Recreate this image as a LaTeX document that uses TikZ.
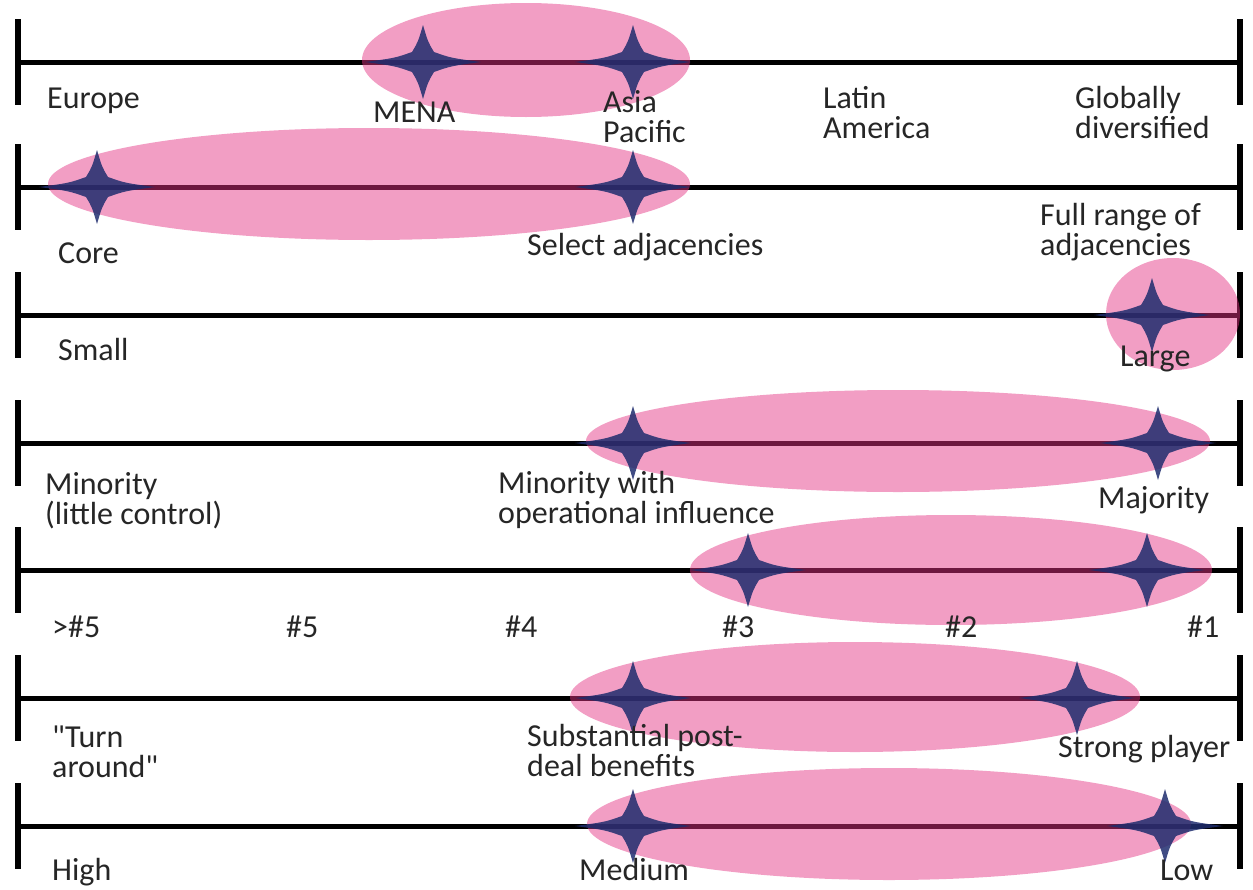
\documentclass[tikz,border=0pt]{standalone}
\usepackage{fontspec}
\setmainfont{Carlito}[Ligatures=TeXOff]
\definecolor{txt}{RGB}{38,38,38}
\definecolor{hl}{RGB}{228,52,132}
\definecolor{navy}{RGB}{31,45,110}
\tikzset{
  axisline/.style={line width=5pt},
  endtick/.style={line width=6pt},
  band/.style={fill=hl,fill opacity=0.48,draw=none},
  starshape/.style={fill=navy,fill opacity=0.85,draw=none},
  lbl/.style={anchor=base west,inner sep=0pt,text=txt,font=\fontsize{32}{30}\selectfont,align=left}
}
\newcommand\drawstar[2]{%
  \fill[starshape] (#1+58,#2) .. controls (#1+28,#2-4) .. (#1+11,#2-10)
    .. controls (#1+5,#2-20) .. (#1,#2-37)
    .. controls (#1-5,#2-20) .. (#1-11,#2-10)
    .. controls (#1-28,#2-4) .. (#1-58,#2)
    .. controls (#1-28,#2+4) .. (#1-11,#2+10)
    .. controls (#1-5,#2+20) .. (#1,#2+37)
    .. controls (#1+5,#2+20) .. (#1+11,#2+10)
    .. controls (#1+28,#2+4) .. (#1+58,#2) -- cycle;}
\begin{document}
\begin{tikzpicture}[x=1pt,y=-1pt]
\useasboundingbox (0,0) rectangle (1253,889);
% axes
\foreach \r/\yy in {1/62,2/187,3/315,4/443,5/570,6/698,7/826}{
  \coordinate (l\r) at (18,\yy);
  \coordinate (r\r) at (1240,\yy);
  \draw[axisline] (l\r) -- (r\r);
  \draw[endtick] ([yshift=43pt]l\r) -- ([yshift=-43pt]l\r);
  \draw[endtick] ([yshift=43pt]r\r) -- ([yshift=-43pt]r\r);
}
% highlight bands
\fill[band] (526,60) ellipse [x radius=164, y radius=57];
\fill[band] (369,184) ellipse [x radius=321, y radius=56];
\fill[band] (1173,314) ellipse [x radius=67, y radius=56];
\fill[band] (898,441) ellipse [x radius=312, y radius=51];
\fill[band] (951,570) ellipse [x radius=261, y radius=55];
\fill[band] (855,697) ellipse [x radius=285, y radius=55];
\fill[band] (889,824) ellipse [x radius=302, y radius=56];
% stars
\drawstar{423}{62}\drawstar{633}{62}
\drawstar{97}{187}\drawstar{633}{187}
\drawstar{1152}{315}
\drawstar{633}{443}\drawstar{1158}{443}
\drawstar{748}{570}\drawstar{1147}{570}
\drawstar{633}{698}\drawstar{1077}{698}
\drawstar{633}{826}\drawstar{1165}{826}
% labels row 1
\node[lbl] (t11) at (47,108) {Europe};
\node[lbl] (t12) at (373,122) {MENA};
\node[lbl] (t13) at (603,142) {Asia\\Pacific};
\node[lbl] (t14) at (823,138) {Latin\\America};
\node[lbl] (t15) at (1075,138) {Globally\\diversified};
% row 2
\node[lbl] (t21) at (58,263) {Core};
\node[lbl] (t22) at (527,255) {Select adjacencies};
\node[lbl] (t23) at (1040,255) {Full range of\\adjacencies};
% row 3
\node[lbl] (t31) at (58,360) {Small};
\node[lbl] (t32) at (1120,366) {Large};
% row 4
\node[lbl] (t41) at (45,524) {Minority\\(little control)};
\node[lbl] (t42) at (498,523) {Minority with\\operational influence};
\node[lbl] (t43) at (1098,508) {Majority};
% row 5
\node[lbl] (t51) at (52,637) {>\#5};
\node[lbl] (t52) at (286,637) {\#5};
\node[lbl] (t53) at (505,637) {\#4};
\node[lbl] (t54) at (722,637) {\#3};
\node[lbl] (t55) at (945,637) {\#2};
\node[lbl] (t56) at (1187,637) {\#1};
% row 6
\node[lbl] (t61) at (52,777) {"Turn\\around"};
\node[lbl] (t62) at (527,776) {Substantial post-\\deal benefits};
\node[lbl] (t63) at (1058,757) {Strong player};
% row 7
\node[lbl] (t71) at (52,880) {High};
\node[lbl] (t72) at (579,880) {Medium};
\node[lbl] (t73) at (1160,880) {Low};
\end{tikzpicture}
\end{document}
